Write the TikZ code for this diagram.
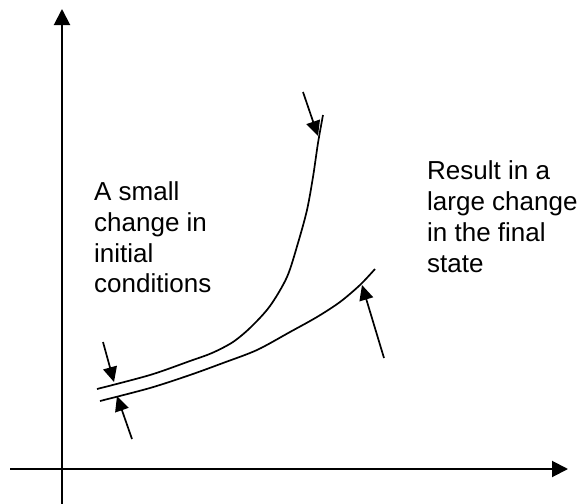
\documentclass[tikz,border=0pt]{standalone}
\usepackage{fontspec}
\setmainfont{Liberation Sans}
\usetikzlibrary{arrows.meta}
\begin{document}
\begin{tikzpicture}[x=1pt,y=-1pt,
  axis/.style={line width=2pt,-{Triangle[length=16pt,width=16pt]}},
  curve/.style={line width=1.7pt},
  pointer/.style={line width=1.7pt,-{Triangle[length=15pt,width=14pt]}},
  lbl/.style={anchor=base west,inner sep=0pt,font=\fontsize{26}{30}\selectfont}]
\useasboundingbox (0,0) rectangle (582,504);
% axes
\coordinate (yb) at (62,504);
\coordinate (yt) at (62,9);
\coordinate (xl) at (10,469);
\coordinate (xr) at (568,469);
\draw[axis] (yb) -- (yt);
\draw[axis] (xl) -- (xr);
% curves
\draw[curve] plot[smooth] coordinates {(97,389) (150,375) (190,361) (212,353) (233,342) (251,327) (270,306) (287,277) (298,243) (307,210) (313,177) (318,143) (323,115)};
\draw[curve] plot[smooth] coordinates {(100,401) (150,388) (190,375) (223,363) (257,350) (290,332) (317,317) (340,302) (360,285) (375,269)};
% pointer arrows
\coordinate (a1s) at (103,342); \coordinate (a1e) at (114,382);
\coordinate (a2s) at (132,439); \coordinate (a2e) at (117,396);
\coordinate (a3s) at (303,92);  \coordinate (a3e) at (318,136);
\coordinate (a4s) at (384,358); \coordinate (a4e) at (362,285);
\draw[pointer] (a1s) -- (a1e);
\draw[pointer] (a2s) -- (a2e);
\draw[pointer] (a3s) -- (a3e);
\draw[pointer] (a4s) -- (a4e);
% labels
\node[lbl] (l1) at (94,200) {A small};
\node[lbl] (l2) at (94,231) {change in};
\node[lbl] (l3) at (94,262) {initial};
\node[lbl] (l4) at (94,292) {conditions};
\node[lbl] (r1) at (427,179) {Result in a};
\node[lbl] (r2) at (427,210) {large change};
\node[lbl] (r3) at (427,241) {in the final};
\node[lbl] (r4) at (427,272) {state};
\end{tikzpicture}
\end{document}
